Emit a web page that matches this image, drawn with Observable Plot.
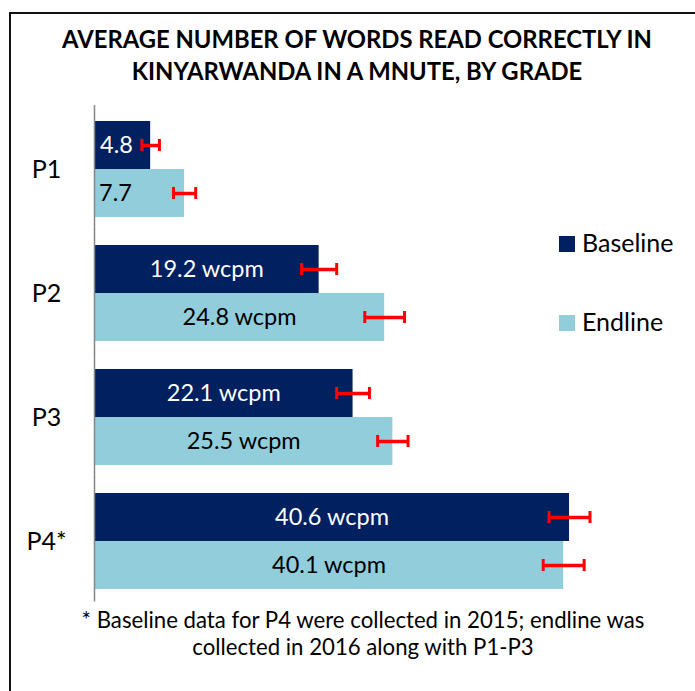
<!DOCTYPE html>
<html>
<head>
<meta charset="utf-8">
<script src="https://cdn.jsdelivr.net/npm/d3@7"></script>
<script src="https://cdn.jsdelivr.net/npm/@observablehq/plot@0.6"></script>
<style>
  html, body { margin: 0; padding: 0; background: #fff; }
  #page { position: relative; width: 695px; height: 691px; overflow: hidden; font-family: Lato, sans-serif; color: #000; }
  #frameTop { position: absolute; left: 9px; top: 12px; width: 690px; height: 2px; background: #111; }
  #frameLeft { position: absolute; left: 9px; top: 12px; width: 2px; height: 700px; background: #111; }
  #title { position: absolute; left: 10px; width: 694px; top: 23px; text-align: center; font-weight: 700; font-size: 23.8px; line-height: 32px; white-space: nowrap; }
  #chart { position: absolute; left: 0; top: 100px; }
  #caption { position: absolute; left: 16px; width: 694px; top: 606px; text-align: center; font-size: 22.2px; line-height: 27px; white-space: nowrap; }
  .leg { position: absolute; left: 559px; height: 30px; }
  .leg .sw { position: absolute; left: 0; width: 16px; height: 16px; }
  .leg .lab { position: absolute; left: 23px; top: 0; font-size: 25px; line-height: 30px; white-space: nowrap; }
</style>
</head>
<body>
<div id="page">
  <div id="frameTop"></div>
  <div id="frameLeft"></div>
  <div id="title">AVERAGE NUMBER OF WORDS READ CORRECTLY IN<br>KINYARWANDA IN A MNUTE, BY GRADE</div>
  <div id="chart"></div>
  <div id="legend"></div>
  <div id="caption">* Baseline data for P4 were collected in 2015; endline was<br>collected in 2016 along with P1-P3</div>
</div>
<script>
const grades = ["P1", "P2", "P3", "P4*"];
const seriesNames = ["Baseline", "Endline"];
const seriesColors = ["#002060", "#92CDDC"];
const baseline = [4.8, 19.2, 22.1, 40.6];
const endline = [7.7, 24.8, 25.5, 40.1];
const baselineErr = [0.75, 1.5, 1.4, 1.75];
const endlineErr = [0.95, 1.7, 1.3, 1.75];
const baselineLabels = ["4.8", "19.2 wcpm", "22.1 wcpm", "40.6 wcpm"];
const endlineLabels = ["7.7", "24.8 wcpm", "25.5 wcpm", "40.1 wcpm"];

const rows = grades.flatMap((g, i) => [
  {grade: g, series: "Baseline", value: baseline[i], err: baselineErr[i], label: baselineLabels[i]},
  {grade: g, series: "Endline", value: endline[i], err: endlineErr[i], label: endlineLabels[i]}
]);

const isShort = d => d.value < 10;
const labelSize = 23.5;

const chart = Plot.plot({
  width: 695,
  height: 510,
  marginLeft: 94,
  marginRight: 16,
  marginTop: 7,
  marginBottom: 7,
  style: {fontFamily: "Lato, sans-serif", background: "transparent", color: "#000"},
  x: {domain: [0, 50], axis: null},
  y: {domain: seriesNames, padding: 0, axis: null},
  fy: {domain: grades, paddingInner: 28 / 124, paddingOuter: 14 / 124, axis: null},
  color: {domain: seriesNames, range: seriesColors},
  marks: [
    Plot.barX(rows, {fy: "grade", y: "series", x: "value", fill: "series"}),
    Plot.ruleX([0], {stroke: "#868686", strokeWidth: 1.5, insetTop: -16, insetBottom: -12.5}),
    Plot.axisFy({anchor: "left", tickSize: 0, tickPadding: 48, textAnchor: "middle", fontSize: 25, label: null}),
    // labels for longer bars: centered
    Plot.text(rows, {filter: d => d.series === "Baseline" && !isShort(d), fy: "grade", y: "series", x: d => d.value / 2, text: "label", fill: "white", fontSize: labelSize}),
    Plot.text(rows, {filter: d => d.series === "Endline" && !isShort(d), fy: "grade", y: "series", x: d => d.value / 2, text: "label", fill: "black", fontSize: labelSize}),
    // labels for short bars: near the axis
    Plot.text(rows, {filter: d => d.series === "Baseline" && isShort(d), fy: "grade", y: "series", x: 0, dx: 22, text: "label", fill: "white", fontSize: labelSize}),
    Plot.text(rows, {filter: d => d.series === "Endline" && isShort(d), fy: "grade", y: "series", x: 0, dx: 21, text: "label", fill: "black", fontSize: labelSize}),
    // error bars
    Plot.ruleY(rows, {fy: "grade", y: "series", x1: d => d.value - d.err, x2: d => d.value + d.err, stroke: "#FF0000", strokeWidth: 3.5}),
    Plot.tickX(rows, {fy: "grade", y: "series", x: d => d.value - d.err, stroke: "#FF0000", strokeWidth: 3, insetTop: 18, insetBottom: 18}),
    Plot.tickX(rows, {fy: "grade", y: "series", x: d => d.value + d.err, stroke: "#FF0000", strokeWidth: 3, insetTop: 18, insetBottom: 18})
  ]
});
document.getElementById("chart").appendChild(chart);

// legend
const legend = document.getElementById("legend");
const legendTops = [227, 306];
seriesNames.forEach((name, i) => {
  const item = document.createElement("div");
  item.className = "leg";
  item.style.top = legendTops[i] + "px";
  const sw = document.createElement("div");
  sw.className = "sw";
  sw.style.top = "9px";
  sw.style.background = seriesColors[i];
  const lab = document.createElement("div");
  lab.className = "lab";
  lab.textContent = name;
  item.appendChild(sw);
  item.appendChild(lab);
  legend.appendChild(item);
});
</script>
</body>
</html>
